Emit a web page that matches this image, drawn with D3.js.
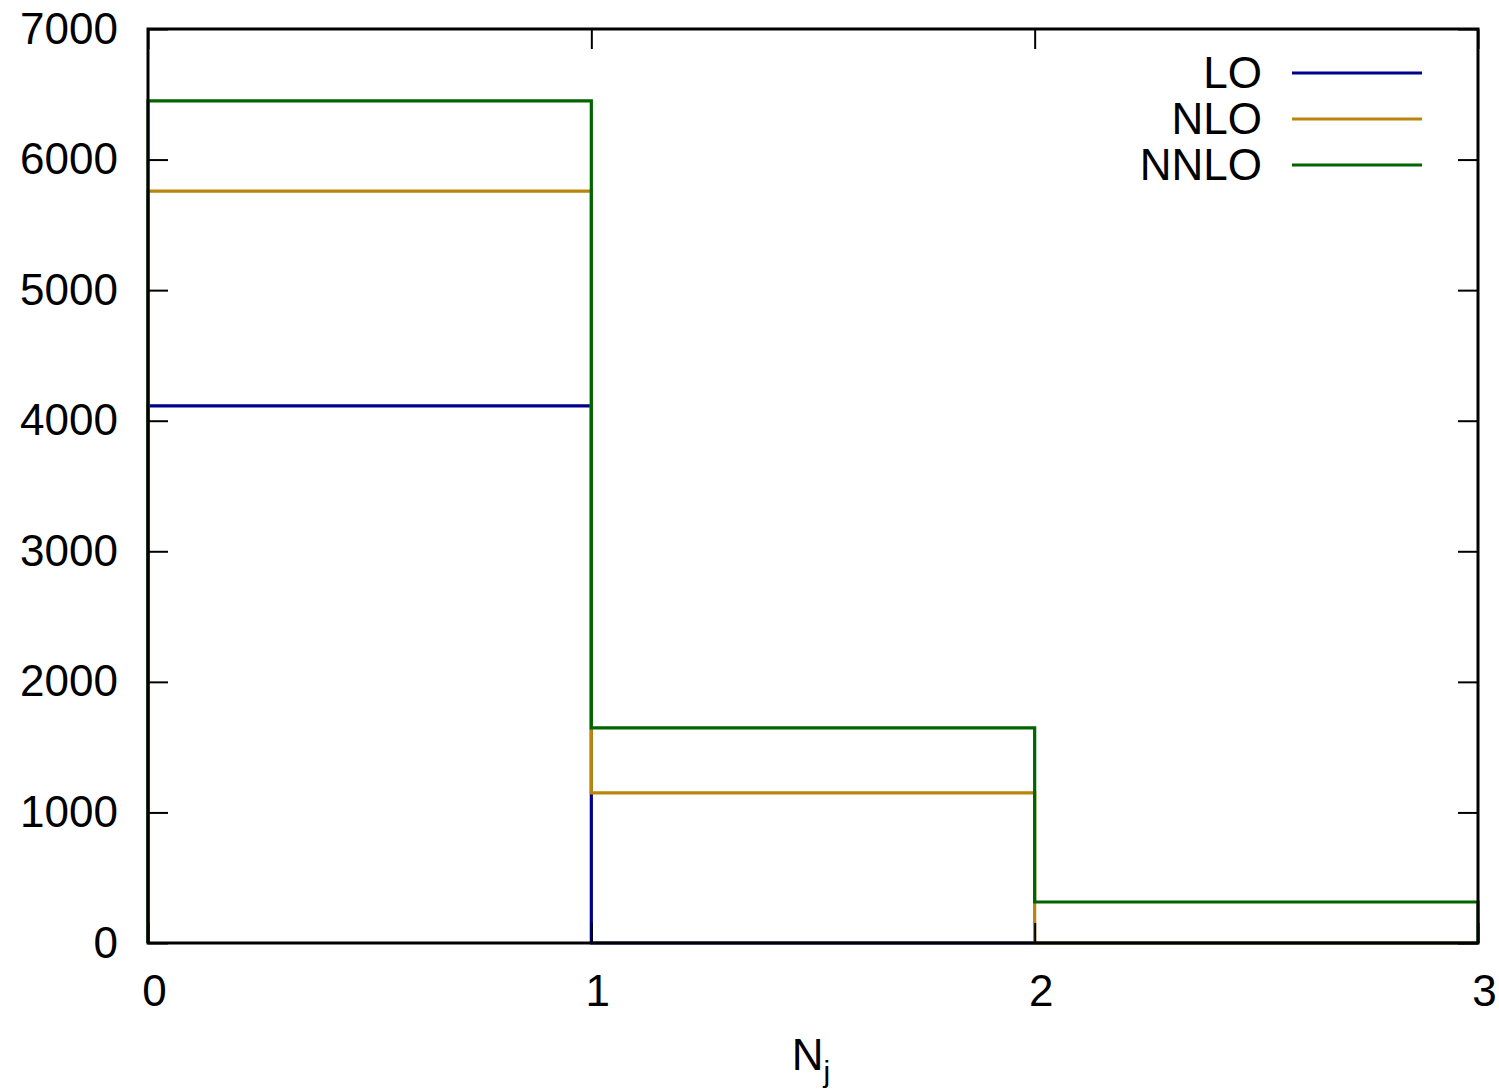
<!DOCTYPE html>
<html>
<head>
<meta charset="utf-8">
<script src="https://cdn.jsdelivr.net/npm/d3@7"></script>
<style>
  body { margin: 0; background: #fff; }
  svg text { font-family: "Liberation Sans", Arial, Helvetica, sans-serif; fill: #000; }
</style>
</head>
<body>
<svg width="1499" height="1090"></svg>
<script>
const binEdges = [0, 1, 2, 3];
const seriesNames = ['LO', 'NLO', 'NNLO'];
const loValues = [4113, 0, 0];
const nloValues = [5759, 1149, 0];
const nnloValues = [6449, 1647, 314];
const xTicks = [0, 1, 2, 3];
const yTicks = [0, 1000, 2000, 3000, 4000, 5000, 6000, 7000];
const colors = ['#00008b', '#b8860b', '#006400'];

const svg = d3.select('svg');
const margin = { left: 148, top: 29, right: 21, bottom: 147 };
const width = +svg.attr('width');
const height = +svg.attr('height');
const innerWidth = width - margin.left - margin.right;
const innerHeight = height - margin.top - margin.bottom;

const xScale = d3.scaleLinear().domain([0, 3]).range([0, innerWidth]);
const yScale = d3.scaleLinear().domain([0, 7000]).range([innerHeight, 0]);

const g = svg.append('g')
  .attr('transform', `translate(${margin.left}, ${margin.top})`);

// step histogram lines
const series = [loValues, nloValues, nnloValues];
const stepLine = d3.line()
  .x(d => xScale(d[0]))
  .y(d => yScale(d[1]));

series.forEach((vals, i) => {
  const pts = [[binEdges[0], 0]];
  vals.forEach((v, k) => {
    pts.push([binEdges[k], v]);
    pts.push([binEdges[k + 1], v]);
  });
  pts.push([binEdges[binEdges.length - 1], 0]);
  g.append('path')
    .datum(pts)
    .attr('fill', 'none')
    .attr('stroke', colors[i])
    .attr('stroke-width', 3.2)
    .attr('d', stepLine);
});

// axes with inward ticks
const tickStyle = sel => {
  sel.selectAll('.domain').remove();
  sel.selectAll('line').attr('stroke', '#000').attr('stroke-width', 2);
  sel.selectAll('text').attr('font-size', 44).attr('font-family', null);
};

g.append('g')
  .call(d3.axisLeft(yScale).tickValues(yTicks).tickFormat(d3.format('d')).tickSize(-20).tickPadding(30))
  .call(tickStyle);

g.append('g')
  .attr('transform', `translate(${innerWidth}, 0)`)
  .call(d3.axisRight(yScale).tickValues(yTicks).tickSize(-20))
  .call(tickStyle)
  .selectAll('text').remove();

const xAxisG = g.append('g')
  .attr('transform', `translate(0, ${innerHeight})`)
  .call(d3.axisBottom(xScale).tickValues(xTicks).tickFormat(d3.format('d')).tickSize(-20).tickPadding(32))
  .call(tickStyle);
xAxisG.selectAll('text').attr('dx', 6);

g.append('g')
  .call(d3.axisTop(xScale).tickValues(xTicks).tickSize(-20))
  .call(tickStyle)
  .selectAll('text').remove();

// frame
g.append('rect')
  .attr('width', innerWidth)
  .attr('height', innerHeight)
  .attr('fill', 'none')
  .attr('stroke', '#000')
  .attr('stroke-width', 3);

// axis title N_j
const title = svg.append('text')
  .attr('x', 811)
  .attr('y', 1070)
  .attr('text-anchor', 'middle')
  .attr('font-size', 44);
title.append('tspan').text('N');
title.append('tspan').attr('font-size', 30).attr('dy', 12).text('j');

// legend
const legend = g.append('g');
seriesNames.forEach((name, i) => {
  const y = 44 + i * 46;
  legend.append('text')
    .attr('x', 1114)
    .attr('y', y)
    .attr('dy', '0.35em')
    .attr('text-anchor', 'end')
    .attr('font-size', 44)
    .text(name);
  legend.append('line')
    .attr('x1', 1144).attr('x2', 1274)
    .attr('y1', y).attr('y2', y)
    .attr('stroke', colors[i])
    .attr('stroke-width', 3.2);
});
</script>
</body>
</html>
